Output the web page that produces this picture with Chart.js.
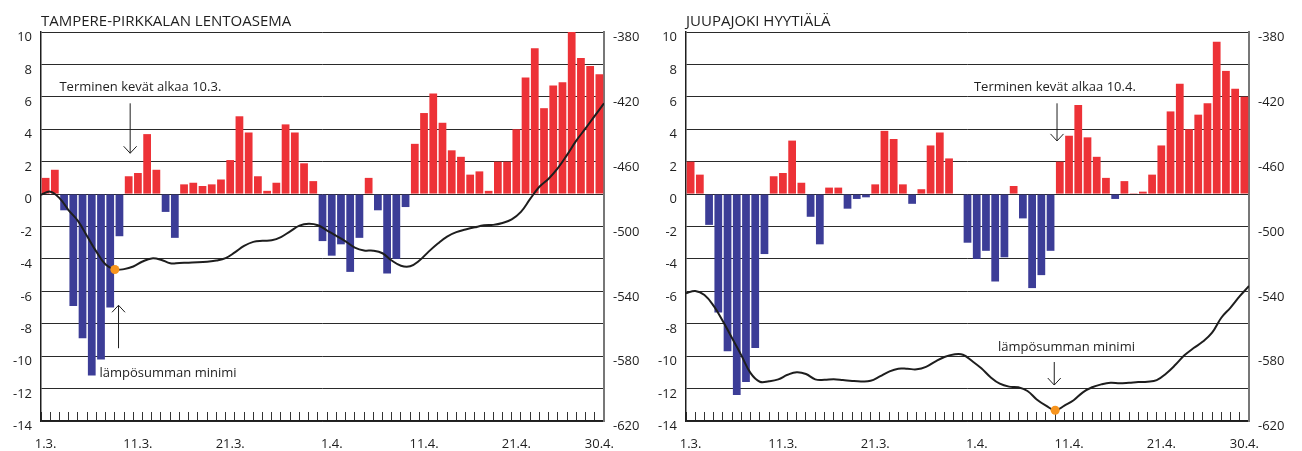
<!DOCTYPE html>
<html lang="fi">
<head>
<meta charset="utf-8">
<title>Lämpösumma ja vuorokauden keskilämpötila</title>
<script src="https://cdn.jsdelivr.net/npm/chart.js@4.4.1/dist/chart.umd.min.js"></script>
<style>
  html, body { margin: 0; padding: 0; background: #fff; }
  body { width: 1302px; height: 451px; position: relative; overflow: hidden; }
  canvas { position: absolute; top: 0; }
  #tampere { left: 0; }
  #hyytiala { left: 651px; }
</style>
</head>
<body>
<canvas id="tampere" width="651" height="451"></canvas>
<canvas id="hyytiala" width="651" height="451"></canvas>
<script>
// ----------- DATA -----------
// one bar per day 1.3. - 30.4.
const dayLabels = [];
for (let d = 1; d <= 31; d++) dayLabels.push(d + '.3.');
for (let d = 1; d <= 30; d++) dayLabels.push(d + '.4.');
const shownDays = ['1.3.', '11.3.', '21.3.', '1.4.', '11.4.', '21.4.', '30.4.'];

// daily mean temperature (°C), left axis
const tampereTemp = [
  1.0, 1.5, -1.0, -6.9, -8.9, -11.2, -10.2, -7.0, -2.6, 1.1,
  1.3, 3.7, 1.5, -1.1, -2.7, 0.6, 0.7, 0.5, 0.6, 0.9,
  2.1, 4.8, 3.8, 1.1, 0.2, 0.7, 4.3, 3.8, 1.9, 0.8,
  -2.9, -3.8, -3.1, -4.8, -2.7, 1.0, -1.0, -4.9, -4.0, -0.8,
  3.1, 5.0, 6.2, 4.4, 2.7, 2.3, 1.2, 1.4, 0.2, 2.0,
  2.0, 4.0, 7.2, 9.0, 5.3, 6.7, 6.9, 10.0, 8.4, 7.9,
  7.4
];
const hyytialaTemp = [
  2.0, 1.2, -1.9, -7.3, -9.7, -12.4, -11.6, -9.5, -3.7, 1.1,
  1.3, 3.3, 0.7, -1.4, -3.1, 0.4, 0.4, -0.9, -0.3, -0.2,
  0.6, 3.9, 3.4, 0.6, -0.6, 0.3, 3.0, 3.8, 2.2, 0.0,
  -3.0, -4.0, -3.5, -5.4, -3.9, 0.5, -1.5, -5.8, -5.0, -3.5,
  2.0, 3.6, 5.5, 3.5, 2.3, 1.0, -0.3, 0.8, 0.05, 0.15,
  1.2, 3.0, 5.1, 6.8, 4.0, 4.9, 5.6, 9.4, 7.6, 6.5,
  6.0
];

// heat sum at day boundaries (62 values), right axis
const tampereSum = [
  -480.5, -478.5, -482.5, -490, -496.5, -506, -515.5, -523.5, -526.5, -526.3,
  -524.7, -521.6, -519.7, -520.5, -522.7, -522.5, -522.3, -522.1, -521.7, -521,
  -519.5, -516, -512, -509.5, -508.8, -508.5, -506.5, -503, -499.5, -498.3,
  -499.2, -502.5, -505.8, -509.2, -513, -514.8, -514.9, -516.5, -521, -524.2,
  -524.5, -521, -515.5, -510.5, -506.2, -503.5, -501.9, -500.5, -499.3, -499,
  -497.8, -495.6, -491, -483, -475.5, -470.5, -464, -455.8, -447, -439.5,
  -431.7, -424
];
const hyytialaSum = [
  -541.2, -539.8, -542.3, -549, -558.5, -569, -579.5, -590.5, -595.8, -595.5,
  -594.3, -591.5, -589.9, -591, -594.3, -594.6, -594.2, -594.7, -595.3, -595.6,
  -595.2, -592.5, -589.5, -587.7, -587.8, -588.1, -586.6, -583.3, -580.5, -579,
  -579.1, -583, -587.5, -593, -597, -598.8, -599.2, -601.5, -606.7, -610.5,
  -613.4, -610.5, -607.2, -602.3, -599.2, -597.4, -596.4, -596.7, -596.4, -596,
  -595.8, -594.8, -590.8, -585.5, -579.5, -575, -571, -565.5, -556.3, -550,
  -543, -536.7
];

// ----------- STYLE -----------
const RED = '#ed3237';
const BLUE = '#3c3d97';
const DOT = '#f7941d';
const INK = '#1e1e1e';
const FONT = '"Open Sans", "Noto Sans", sans-serif';

Chart.defaults.font.family = FONT;
Chart.defaults.color = INK;

// ----------- NOTES PLUGIN (title, texts, arrows) -----------
function drawArrow(ctx, x, yFrom, yTo) {
  const dir = yTo > yFrom ? 1 : -1;
  ctx.beginPath();
  ctx.moveTo(x, yFrom);
  ctx.lineTo(x, yTo);
  ctx.moveTo(x - 6.5, yTo - dir * 7);
  ctx.lineTo(x, yTo);
  ctx.lineTo(x + 6.5, yTo - dir * 7);
  ctx.stroke();
}

const notesPlugin = {
  id: 'notes',
  afterDatasetsDraw(chart, args, opts) {
    const ctx = chart.ctx;
    const xs = chart.scales.xl;
    const ys = chart.scales.y;
    ctx.save();
    ctx.fillStyle = INK;
    ctx.strokeStyle = INK;
    ctx.lineWidth = 1;

    ctx.font = '15px ' + FONT;
    ctx.textAlign = 'left';
    ctx.textBaseline = 'alphabetic';
    ctx.fillText(opts.title, chart.chartArea.left, 26);

    ctx.font = '13px ' + FONT;
    ctx.textBaseline = 'middle';
    opts.texts.forEach(t => {
      ctx.fillText(t.text, xs.getPixelForValue(t.at[0]), ys.getPixelForValue(t.at[1]));
    });
    opts.arrows.forEach(a => {
      drawArrow(ctx, xs.getPixelForValue(a.x), ys.getPixelForValue(a.from), ys.getPixelForValue(a.to));
    });
    ctx.restore();
  }
};

// ----------- CHART SETUP -----------
function makePanel(canvasId, temps, sums, leftWidth, rightWidth, notes) {
  const minVal = Math.min(...sums);
  const minIdx = sums.indexOf(minVal);

  return new Chart(document.getElementById(canvasId), {
    type: 'bar',
    data: {
      labels: dayLabels,
      datasets: [
        {
          type: 'line',
          data: [{ x: minIdx, y: minVal }],
          xAxisID: 'xl',
          yAxisID: 'y2',
          showLine: false,
          pointRadius: 4.5,
          pointBackgroundColor: DOT,
          pointBorderWidth: 0,
          order: 0
        },
        {
          type: 'line',
          data: sums.map((v, i) => ({ x: i, y: v })),
          xAxisID: 'xl',
          yAxisID: 'y2',
          borderColor: INK,
          borderWidth: 2,
          pointRadius: 0,
          tension: 0.4,
          order: 1
        },
        {
          type: 'bar',
          data: temps,
          xAxisID: 'x',
          yAxisID: 'y',
          backgroundColor: temps.map(v => v < 0 ? BLUE : RED),
          grouped: false,
          barPercentage: 0.84,
          categoryPercentage: 1,
          order: 2
        }
      ]
    },
    options: {
      responsive: false,
      animation: false,
      layout: { padding: { top: 32, left: 0, right: 0, bottom: 0 } },
      plugins: {
        legend: { display: false },
        tooltip: { enabled: false },
        notes: notes
      },
      scales: {
        x: {
          type: 'category',
          offset: true,
          grid: { offset: true, drawOnChartArea: false, drawTicks: true, tickLength: -9, color: '#333', lineWidth: 1 },
          border: { display: true, color: INK, width: 1.5 },
          ticks: {
            autoSkip: false,
            maxRotation: 0,
            padding: 24,
            font: { size: 13 },
            callback: (v, i) => shownDays.includes(dayLabels[i]) ? dayLabels[i] : ''
          },
          afterFit: s => { s.height = 30; }
        },
        xl: { type: 'linear', min: 0, max: 61, offset: false, grid: { offset: false }, display: false },
        y: {
          position: 'left',
          min: -14,
          max: 10,
          ticks: { stepSize: 2, padding: 9, labelOffset: 5.5, font: { size: 13 } },
          grid: { color: '#2a2a2a', lineWidth: 1, drawTicks: false },
          border: { display: true, color: INK, width: 1.5 },
          afterFit: s => { s.width = leftWidth; }
        },
        y2: {
          position: 'right',
          min: -620,
          max: -380,
          ticks: { stepSize: 40, padding: 9, labelOffset: 5.5, font: { size: 13 } },
          grid: { drawOnChartArea: false, drawTicks: false },
          border: { display: true, color: '#777', width: 2 },
          afterFit: s => { s.width = rightWidth; }
        }
      }
    },
    plugins: [notesPlugin]
  });
}

makePanel('tampere', tampereTemp, tampereSum, 41, 47, {
  title: 'TAMPERE-PIRKKALAN LENTOASEMA',
  texts: [
    { text: 'Terminen kevät alkaa 10.3.', at: [2.0, 6.57] },
    { text: 'lämpösumman minimi', at: [6.34, -11.06] }
  ],
  arrows: [
    { x: 9.66, from: 5.6, to: 2.52 },
    { x: 8.4, from: -9.51, to: -6.86 }
  ]
});

makePanel('hyytiala', hyytialaTemp, hyytialaSum, 35, 53, {
  title: 'JUUPAJOKI HYYTIÄLÄ',
  texts: [
    { text: 'Terminen kevät alkaa 10.4.', at: [31.2, 6.61] },
    { text: 'lämpösumman minimi', at: [33.8, -9.44] }
  ],
  arrows: [
    { x: 40.2, from: 5.6, to: 3.28 },
    { x: 39.9, from: -10.36, to: -11.78 }
  ]
});
</script>
</body>
</html>
